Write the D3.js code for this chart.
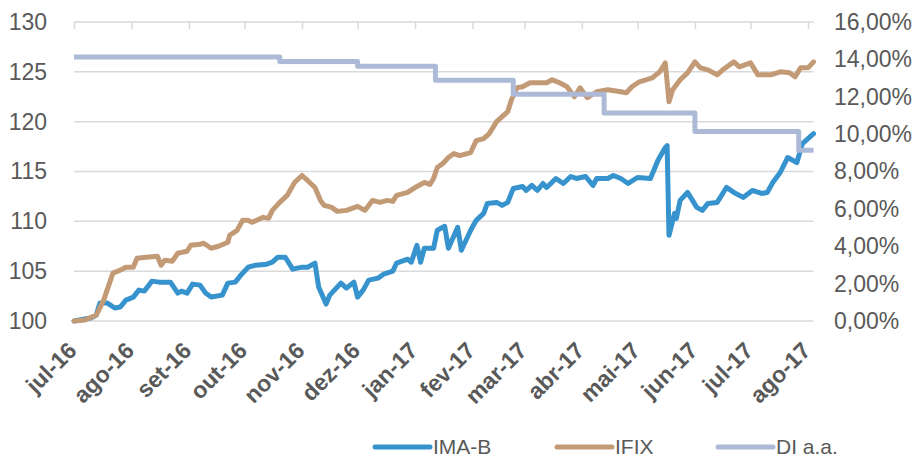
<!DOCTYPE html>
<html>
<head>
<meta charset="utf-8">
<script src="https://cdn.jsdelivr.net/npm/d3@7"></script>
<style>
  body { margin: 0; background: #fff; }
  text { font-family: "Liberation Sans", Arial, sans-serif; fill: #595959; }
</style>
</head>
<body>
<div class="chart__container"></div>
<script>
//data
const IMAB_DATES = ["2016-07-01","2016-07-10","2016-07-13","2016-07-15","2016-07-19","2016-07-23","2016-07-26","2016-07-29","2016-08-02","2016-08-05","2016-08-08","2016-08-12","2016-08-16","2016-08-22","2016-08-26","2016-08-28","2016-08-31","2016-09-03","2016-09-07","2016-09-10","2016-09-13","2016-09-19","2016-09-22","2016-09-26","2016-09-29","2016-10-03","2016-10-07","2016-10-13","2016-10-16","2016-10-19","2016-10-23","2016-10-27","2016-11-01","2016-11-04","2016-11-08","2016-11-10","2016-11-14","2016-11-16","2016-11-22","2016-11-25","2016-11-29","2016-12-01","2016-12-04","2016-12-07","2016-12-12","2016-12-15","2016-12-20","2016-12-22","2016-12-28","2016-12-30","2017-01-02","2017-01-04","2017-01-06","2017-01-11","2017-01-13","2017-01-17","2017-01-19","2017-01-24","2017-01-26","2017-01-31","2017-02-03","2017-02-07","2017-02-09","2017-02-14","2017-02-17","2017-02-20","2017-02-23","2017-02-28","2017-03-02","2017-03-05","2017-03-08","2017-03-11","2017-03-13","2017-03-18","2017-03-22","2017-03-26","2017-03-29","2017-04-03","2017-04-07","2017-04-09","2017-04-15","2017-04-18","2017-04-22","2017-04-26","2017-05-01","2017-05-08","2017-05-12","2017-05-16","2017-05-17","2017-05-18","2017-05-21","2017-05-22","2017-05-24","2017-05-28","2017-06-02","2017-06-05","2017-06-08","2017-06-13","2017-06-18","2017-06-22","2017-06-27","2017-07-02","2017-07-07","2017-07-10","2017-07-13","2017-07-17","2017-07-21","2017-07-26","2017-07-29","2017-08-04"];
const IMAB_VALUES = [100.0,100.3,100.6,101.8,101.8,101.3,101.4,102.1,102.4,103.1,103.0,104.0,103.9,103.9,102.8,103.0,102.8,103.7,103.6,102.8,102.4,102.6,103.8,103.9,104.6,105.4,105.6,105.7,105.9,106.4,106.4,105.2,105.4,105.4,105.8,103.4,101.7,102.6,103.8,103.3,103.9,102.4,103.1,104.1,104.3,104.7,105.0,105.8,106.2,105.9,107.6,105.9,107.3,107.3,109.1,109.5,107.3,109.4,107.1,109.1,110.1,110.8,111.8,111.9,111.6,111.9,113.3,113.5,113.1,113.6,113.1,113.8,113.4,114.3,113.8,114.5,114.3,114.5,113.6,114.3,114.3,114.6,114.3,113.8,114.4,114.3,116.1,117.4,117.6,108.6,110.8,110.3,112.1,112.9,111.4,111.1,111.8,111.9,113.4,112.9,112.4,113.1,112.8,112.9,113.9,114.9,116.4,115.9,117.8,118.8];

const IFIX_DATES = ["2016-07-01","2016-07-07","2016-07-13","2016-07-17","2016-07-22","2016-07-26","2016-07-29","2016-08-02","2016-08-04","2016-08-09","2016-08-15","2016-08-17","2016-08-19","2016-08-23","2016-08-26","2016-08-31","2016-09-02","2016-09-07","2016-09-09","2016-09-13","2016-09-17","2016-09-22","2016-09-23","2016-09-27","2016-09-30","2016-10-03","2016-10-05","2016-10-11","2016-10-14","2016-10-16","2016-10-20","2016-10-24","2016-10-28","2016-11-01","2016-11-04","2016-11-08","2016-11-11","2016-11-13","2016-11-17","2016-11-20","2016-11-25","2016-12-01","2016-12-05","2016-12-09","2016-12-13","2016-12-17","2016-12-20","2016-12-22","2016-12-28","2017-01-02","2017-01-06","2017-01-09","2017-01-11","2017-01-13","2017-01-16","2017-01-19","2017-01-22","2017-01-25","2017-01-31","2017-02-03","2017-02-07","2017-02-10","2017-02-14","2017-02-20","2017-02-22","2017-02-25","2017-02-28","2017-03-04","2017-03-08","2017-03-13","2017-03-16","2017-03-20","2017-03-24","2017-03-28","2017-03-31","2017-04-04","2017-04-09","2017-04-15","2017-04-22","2017-04-25","2017-04-28","2017-05-02","2017-05-09","2017-05-13","2017-05-16","2017-05-18","2017-05-20","2017-05-24","2017-05-28","2017-06-01","2017-06-04","2017-06-08","2017-06-13","2017-06-16","2017-06-22","2017-06-25","2017-07-01","2017-07-05","2017-07-12","2017-07-17","2017-07-22","2017-07-25","2017-07-28","2017-08-01","2017-08-04"];
const IFIX_VALUES = [100.0,100.1,100.6,102.1,104.8,105.1,105.4,105.4,106.3,106.4,106.5,105.6,106.1,106.0,106.8,107.0,107.6,107.7,107.8,107.3,107.5,107.9,108.6,109.1,110.1,110.1,109.9,110.4,110.3,111.1,111.9,112.6,113.9,114.6,114.1,113.4,112.1,111.6,111.4,111.0,111.1,111.5,111.1,112.1,111.9,112.1,112.0,112.6,112.9,113.5,113.9,113.7,114.3,115.4,115.8,116.4,116.8,116.6,116.9,118.1,118.3,118.8,120.0,121.0,122.2,123.4,123.5,123.9,123.9,123.9,124.2,123.9,123.5,122.5,123.4,122.4,123.0,123.2,123.0,122.9,123.5,124.0,124.4,125.0,125.9,122.0,123.2,124.2,124.9,126.0,125.4,125.2,124.7,125.2,126.0,125.5,125.9,124.7,124.7,125.0,124.9,124.5,125.4,125.4,126.0];

const DI_DATES = ["2016-07-01","2016-10-20","2016-12-01","2017-01-12","2017-02-23","2017-04-13","2017-06-01","2017-07-27","2017-08-04"];
const DI_VALUES = [0.1413,0.1388,0.1363,0.1288,0.1213,0.1113,0.1014,0.0914,0.0914];

const MONTH_LABELS = ["jul-16","ago-16","set-16","out-16","nov-16","dez-16","jan-17","fev-17","mar-17","abr-17","mai-17","jun-17","jul-17","ago-17"];
const LEFT_TICKS = [100,105,110,115,120,125,130];
const RIGHT_TICKS = [0,0.02,0.04,0.06,0.08,0.10,0.12,0.14,0.16];
const SERIES_NAMES = ["IMA-B","IFIX","DI a.a."];
const SERIES_COLORS = ["#3793cd","#c39a76","#adbad7"];

//init
const CHART__WIDTH = 921;
const CHART__HEIGHT = 458;
const PLOT = { left: 74, right: 808, top: 22, bottom: 321 };

const parse = d3.timeParse("%Y-%m-%d");
const ptBR = d3.formatLocale({ decimal: ",", thousands: ".", grouping: [3], currency: ["R$", ""] });
const pct = ptBR.format(".2%");

const imab = IMAB_DATES.map((d, i) => ({ date: parse(d), value: IMAB_VALUES[i] }));
const ifix = IFIX_DATES.map((d, i) => ({ date: parse(d), value: IFIX_VALUES[i] }));
const di = DI_DATES.map((d, i) => ({ date: parse(d), value: DI_VALUES[i] }));

const monthTicks = d3.timeMonth.range(parse("2016-07-01"), parse("2017-08-02"));
const lastDate = parse(IMAB_DATES[IMAB_DATES.length - 1]);

const xScale = d3.scaleTime().domain([monthTicks[0], monthTicks[monthTicks.length - 1]]).range([PLOT.left, PLOT.right]);
const yLeft = d3.scaleLinear().domain([100, 130]).range([PLOT.bottom, PLOT.top]);
const yRight = d3.scaleLinear().domain([0, 0.16]).range([PLOT.bottom, PLOT.top]);
const plotEnd = xScale(lastDate);

//svg
const svg = d3.select(".chart__container").append("svg")
    .attr("width", CHART__WIDTH)
    .attr("height", CHART__HEIGHT)
    .style("display", "block")
    .style("background-color", "#fff");

//gridlines
svg.append("g")
    .selectAll("line")
    .data(LEFT_TICKS)
    .enter()
    .append("line")
    .attr("x1", PLOT.left)
    .attr("x2", plotEnd)
    .attr("y1", d => yLeft(d))
    .attr("y2", d => yLeft(d))
    .attr("stroke", "#d9d9d9")
    .attr("stroke-width", 1.5);

//date axis sits on top (crosses at max) with ticks pointing down
const topAxis = d3.axisBottom(xScale).tickValues(monthTicks).tickSize(7).tickFormat("");
const xTop = svg.append("g").attr("transform", `translate(0,${PLOT.top})`).call(topAxis);
xTop.select(".domain").remove();
xTop.selectAll(".tick line").attr("stroke", "#d9d9d9").attr("stroke-width", 1.5);

//month labels at bottom
svg.append("g")
    .selectAll("text")
    .data(monthTicks)
    .enter()
    .append("text")
    .attr("text-anchor", "end")
    .attr("transform", d => `translate(${xScale(d) + 4},${PLOT.bottom + 31}) rotate(-45)`)
    .style("font-size", "23px")
    .style("font-weight", "bold")
    .text((d, i) => MONTH_LABELS[i]);

//left axis
const leftAxis = d3.axisLeft(yLeft).tickValues(LEFT_TICKS).tickSize(0).tickPadding(0);
const yAxisL = svg.append("g").attr("transform", `translate(47,0)`).call(leftAxis);
yAxisL.select(".domain").remove();
yAxisL.selectAll("text").style("font-size", "23px").style("font-family", null).attr("fill", "#595959");

//right axis
const rightAxis = d3.axisRight(yRight).tickValues(RIGHT_TICKS).tickSize(0).tickPadding(0).tickFormat(pct);
const yAxisR = svg.append("g").attr("transform", `translate(834,0)`).call(rightAxis);
yAxisR.select(".domain").remove();
yAxisR.selectAll("text").style("font-size", "23px").style("font-family", null).attr("fill", "#595959");

//lines
const lineLeft = d3.line().x(d => xScale(d.date)).y(d => yLeft(d.value));
const lineRight = d3.line().x(d => xScale(d.date)).y(d => yRight(d.value)).curve(d3.curveStepAfter);

const chart = svg.append("g");
[imab, ifix].forEach((series, i) => {
    chart.append("path")
        .datum(series)
        .attr("d", lineLeft)
        .attr("fill", "none")
        .attr("stroke", SERIES_COLORS[i])
        .attr("stroke-width", 5)
        .attr("stroke-linejoin", "round")
        .attr("stroke-linecap", "round");
});
chart.append("path")
    .datum(di)
    .attr("d", lineRight)
    .attr("fill", "none")
    .attr("stroke", SERIES_COLORS[2])
    .attr("stroke-width", 5)
    .attr("stroke-linejoin", "round");

//legend
const LEGEND_X = [375, 557, 718];
const legend = svg.append("g").attr("transform", "translate(0,447)");
SERIES_NAMES.forEach((name, i) => {
    legend.append("line")
        .attr("x1", LEGEND_X[i]).attr("x2", LEGEND_X[i] + 55)
        .attr("y1", 0).attr("y2", 0)
        .attr("stroke", SERIES_COLORS[i])
        .attr("stroke-width", 5)
        .attr("stroke-linecap", "round");
    legend.append("text")
        .attr("x", LEGEND_X[i] + 58)
        .attr("y", 0)
        .attr("dy", "0.35em")
        .style("font-size", "21px")
        .text(name);
});
</script>
</body>
</html>
